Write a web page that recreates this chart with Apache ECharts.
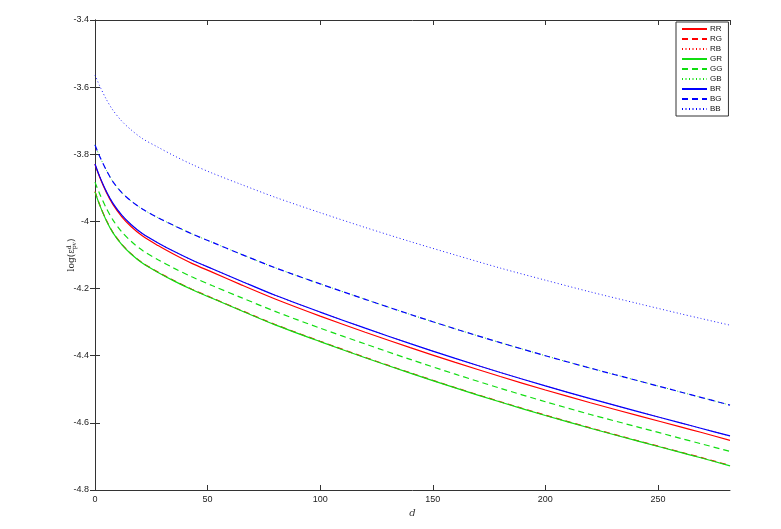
<!DOCTYPE html>
<html>
<head>
<meta charset="utf-8">
<script src="https://cdn.jsdelivr.net/npm/echarts@6/dist/echarts.min.js"></script>
<style>html,body{margin:0;padding:0;background:#fff}#c{width:781px;height:529px}</style>
</head>
<body>
<div id="c"></div>
<script>
// x positions (d) at which values were read
var D = [0, 2, 5, 8, 12, 16, 21, 28, 35, 43, 52, 65, 80, 100, 120, 140, 160, 180, 200, 220, 242, 260, 269, 282];

var RR = [-3.830, -3.867, -3.913, -3.950, -3.987, -4.015, -4.043, -4.072, -4.098, -4.125, -4.151, -4.189, -4.231, -4.282, -4.330, -4.376, -4.420, -4.462, -4.502, -4.540, -4.580, -4.612, -4.628, -4.652];
var RG = [-3.911, -3.949, -3.996, -4.033, -4.069, -4.096, -4.123, -4.151, -4.176, -4.202, -4.228, -4.265, -4.307, -4.357, -4.405, -4.451, -4.495, -4.537, -4.577, -4.615, -4.655, -4.687, -4.703, -4.727];
var RB = [-3.829, -3.865, -3.910, -3.946, -3.982, -4.009, -4.036, -4.064, -4.089, -4.115, -4.141, -4.178, -4.220, -4.270, -4.318, -4.364, -4.408, -4.450, -4.490, -4.528, -4.568, -4.600, -4.616, -4.639];
var GR = [-3.912, -3.950, -3.997, -4.034, -4.070, -4.097, -4.124, -4.152, -4.177, -4.203, -4.229, -4.266, -4.308, -4.358, -4.406, -4.452, -4.496, -4.538, -4.578, -4.616, -4.656, -4.688, -4.704, -4.728];
var GG = [-3.883, -3.917, -3.960, -3.996, -4.032, -4.059, -4.086, -4.114, -4.139, -4.165, -4.191, -4.227, -4.268, -4.318, -4.365, -4.411, -4.455, -4.497, -4.537, -4.575, -4.614, -4.646, -4.662, -4.685];
var GB = [-3.772, -3.805, -3.847, -3.882, -3.915, -3.939, -3.963, -3.989, -4.012, -4.037, -4.062, -4.098, -4.138, -4.186, -4.232, -4.277, -4.320, -4.361, -4.400, -4.437, -4.476, -4.508, -4.524, -4.547];
var BR = [-3.829, -3.865, -3.910, -3.946, -3.982, -4.009, -4.036, -4.064, -4.089, -4.115, -4.141, -4.178, -4.220, -4.270, -4.318, -4.364, -4.408, -4.450, -4.490, -4.528, -4.568, -4.600, -4.616, -4.639];
var BG = [-3.772, -3.805, -3.847, -3.882, -3.915, -3.939, -3.963, -3.989, -4.012, -4.037, -4.062, -4.098, -4.138, -4.186, -4.232, -4.277, -4.320, -4.361, -4.400, -4.437, -4.476, -4.508, -4.524, -4.547];
var BB = [-3.564, -3.595, -3.636, -3.669, -3.702, -3.727, -3.753, -3.779, -3.804, -3.830, -3.856, -3.890, -3.928, -3.974, -4.018, -4.060, -4.100, -4.139, -4.175, -4.210, -4.246, -4.275, -4.289, -4.309];

var seriesNames = ['RR', 'RG', 'RB', 'GR', 'GG', 'GB', 'BR', 'BG', 'BB'];
var seriesValues = [RR, RG, RB, GR, GG, GB, BR, BG, BB];
var yTicks = [-4.8, -4.6, -4.4, -4.2, -4, -3.8, -3.6, -3.4];
var xTicks = [0, 50, 100, 150, 200, 250];

var colorOf = {R: '#ff0000', G: '#11dd11', B: '#0000ff'};
var typeOf = {R: 'solid', G: [6, 4], B: [1, 2.5]};
var widthOf = {R: 1.2, G: 1.2, B: 0.9};

var series = seriesNames.map(function (n, i) {
  return {
    name: n,
    type: 'line',
    symbol: 'none',
    smooth: 0.3,
    data: D.map(function (d, j) { return [d, seriesValues[i][j]]; }),
    lineStyle: {color: colorOf[n[0]], type: typeOf[n[1]], width: widthOf[n[1]]},
    itemStyle: {color: colorOf[n[0]]},
    emphasis: {disabled: true},
    xAxisIndex: 0, yAxisIndex: 0
  };
});

var labelFont = {fontFamily: 'Liberation Sans, Arial, sans-serif', fontSize: 9, color: '#222'};
var axisLine = {show: true, lineStyle: {color: '#333', width: 1}};
var tickStyle = {show: true, inside: true, length: 5, lineStyle: {color: '#333'}};

var chart = echarts.init(document.getElementById('c'), null, {renderer: 'canvas'});
chart.setOption({
  animation: false,
  backgroundColor: '#fff',
  grid: {left: 95, right: 51, top: 20, bottom: 39, containLabel: false},
  legend: {
    data: seriesNames,
    orient: 'vertical',
    left: 676,
    top: 22,
    padding: [3, 6, 3, 5],
    itemGap: 2,
    itemWidth: 25,
    itemHeight: 8,
    borderColor: '#333',
    borderWidth: 1,
    backgroundColor: '#fff',
    itemStyle: {opacity: 0},
    textStyle: {fontFamily: 'Liberation Sans, Arial, sans-serif', fontSize: 8, color: '#111', lineHeight: 8, padding: [0, 0, 0, -2]}
  },
  xAxis: [{
    type: 'value', min: 0, max: 282, interval: 50,
    name: 'd', nameLocation: 'middle', nameGap: 12,
    nameTextStyle: {fontFamily: 'DejaVu Serif, serif', fontStyle: 'italic', fontSize: 10, color: '#333'},
    axisLine: axisLine, axisTick: tickStyle, splitLine: {show: false},
    axisLabel: Object.assign({margin: 5, showMaxLabel: false}, labelFont)
  }, {
    type: 'value', min: 0, max: 282, interval: 50, position: 'top',
    axisLine: axisLine, axisTick: tickStyle, splitLine: {show: false}, axisLabel: {show: false}
  }],
  yAxis: [{
    type: 'value', min: -4.8, max: -3.4, interval: 0.2,
    name: '{n|log(ε}{s|d}{b|pv}{n|)}', nameLocation: 'middle', nameGap: 17, nameRotate: 90,
    nameMoveOverlap: false,
    nameTextStyle: {rich: {
      n: {fontFamily: 'DejaVu Serif, serif', fontSize: 9, color: '#222'},
      s: {fontFamily: 'DejaVu Serif, serif', fontSize: 6, color: '#222', padding: [0, 0, 6, 0]},
      b: {fontFamily: 'DejaVu Serif, serif', fontSize: 6, color: '#222', padding: [4, 0, 0, -4]}
    }},
    axisLine: axisLine, axisTick: tickStyle, splitLine: {show: false},
    axisLabel: Object.assign({margin: 6, formatter: function (v) { return String(Math.round(v * 10) / 10); }}, labelFont)
  }, {
    type: 'value', min: -4.8, max: -3.4, interval: 0.2, position: 'right',
    axisLine: axisLine, axisTick: tickStyle, splitLine: {show: false}, axisLabel: {show: false}
  }],
  series: series
});
</script>
</body>
</html>
